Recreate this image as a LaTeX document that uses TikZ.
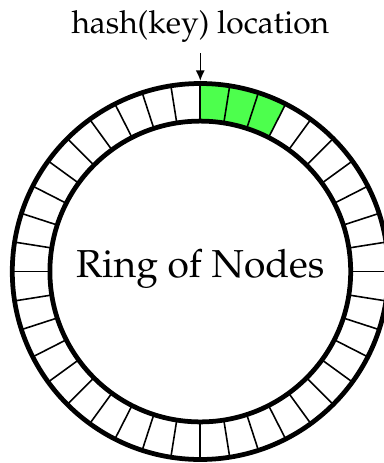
\documentclass[tikz,border=0pt]{standalone}
\usepackage[T1]{fontenc}
\usepackage{mathpazo}
\usepackage{tikz}
\usepackage{xcolor}
\usetikzlibrary{arrows.meta, positioning}
\definecolor{Slot_Green}{HTML}{4DFF4D}

\begin{document}
\begin{tikzpicture}
    \useasboundingbox (-5.327,-5.093) rectangle (4.886,7.221);

    % Key lands on three slots clockwise from the top
    \fill[Slot_Green] (63:4) arc (63:90:4) -- (90:5) arc (90:63:5) -- cycle;

    % 40 slots, 9 degrees each
    \foreach \a in {0,9,...,351} {
        \draw[line width=1.2pt] (\a:4) -- (\a:5);
    }

    % Ring edges
    \draw[line width=3.6pt] (0,0) circle (5);
    \draw[line width=3.6pt] (0,0) circle (4);

    % Labels
    \node[anchor=base, font=\fontsize{29.5}{34}\selectfont] (ring) at (0,-0.17) {Ring of Nodes};
    \node[anchor=base, font=\fontsize{24}{28}\selectfont] (hash) at (0,6.343) {hash(key) location};

    % Mark the hash position
    \coordinate (tail) at (0,5.81);
    \coordinate (top) at (0,5.07);
    \draw[line width=1.1pt, -{Latex[length=8pt,width=7pt]}] (tail) -- (top);
\end{tikzpicture}
\end{document}
